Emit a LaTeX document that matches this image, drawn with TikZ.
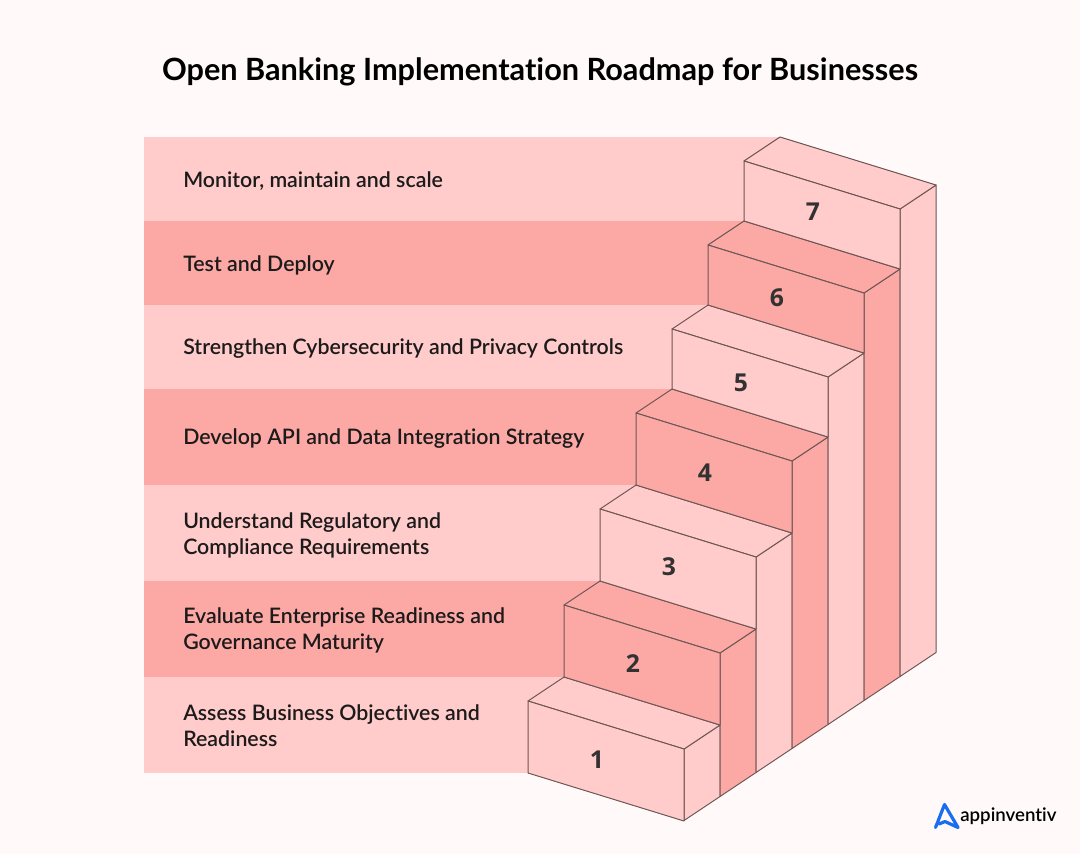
\documentclass[tikz,border=0pt]{standalone}
\usepackage{fontspec}
\setmainfont{Lato}[UprightFont=* Semibold,BoldFont=* Bold,RawFeature={-liga}]
\newfontfamily\numfont{Open Sans}
\definecolor{bgc}{HTML}{FFFAF9}
\definecolor{lite}{HTML}{FFCCCB}
\definecolor{deep}{HTML}{FCA9A6}
\definecolor{edge}{HTML}{6E5654}
\definecolor{ink}{HTML}{1C1A1A}
\definecolor{logoblue}{HTML}{1A6DF0}
\tikzset{
  x=0.75pt,y=-0.75pt,
  faceline/.style={draw=edge,line width=0.75pt,line join=round},
  bandlabel/.style={anchor=west,align=left,inner sep=0pt,text=ink,font=\fontsize{16}{19.5}\selectfont},
  stepnum/.style={inner sep=0pt,text=ink!90,font=\numfont\bfseries\fontsize{18.5}{20}\selectfont},
}
\begin{document}
\begin{tikzpicture}
\fill[bgc] (0,0) rectangle (1080,854);
\useasboundingbox (0,0) rectangle (1080,854);
\node[anchor=center,inner sep=0pt,text=black,font=\bfseries\fontsize{23}{27}\selectfont] (title) at (540,72) {Open Banking Implementation Roadmap for Businesses};
% bands
\fill[lite] (144,137) rectangle (780,221);
\fill[deep] (144,221) rectangle (744,305);
\fill[lite] (144,305) rectangle (708,389);
\fill[deep] (144,389) rectangle (672,485);
\fill[lite] (144,485) rectangle (636,581);
\fill[deep] (144,581) rectangle (600,677);
\fill[lite] (144,677) rectangle (564,773);
% steps: index / x / front top / front bottom / colour
\foreach \i/\x/\t/\b/\c in {1/528/701/773/lite,2/564/605/677/deep,3/600/509/581/lite,4/636/413/485/deep,5/672/329/389/lite,6/708/245/305/deep,7/744/161/221/lite}{
  \pgfmathsetmacro{\g}{820.5-24*(\i-1)}
  \pgfmathsetmacro{\gb}{\g-24}
  \path[fill=\c,faceline] (\x+156,\t+48) -- (\x+192,\t+24) -- (\x+192,\gb) -- (\x+156,\g) -- cycle;
  \path[fill=\c,faceline] (\x,\t) -- (\x+36,\t-24) -- (\x+192,\t+24) -- (\x+156,\t+48) -- cycle;
  \path[fill=\c,faceline] (\x,\t) -- (\x+156,\t+48) -- (\x+156,\b+48) -- (\x,\b) -- cycle;
}
\node[stepnum] (n1) at (597,760) {1};
\node[stepnum] (n2) at (633,664) {2};
\node[stepnum] (n3) at (669,567) {3};
\node[stepnum] (n4) at (705,473) {4};
\node[stepnum] (n5) at (741,383) {5};
\node[stepnum] (n6) at (777,298) {6};
\node[stepnum] (n7) at (813,212) {7};
\node[bandlabel] (l7) at (183,181) {Monitor, maintain and scale};
\node[bandlabel] (l6) at (183,265) {Test and Deploy};
\node[bandlabel] (l5) at (183,349) {Strengthen Cybersecurity and Privacy Controls};
\node[bandlabel] (l4) at (183,439) {Develop API and Data Integration Strategy};
\node[bandlabel] (l3) at (183,535) {Understand Regulatory and\\Compliance Requirements};
\node[bandlabel] (l2) at (183,630) {Evaluate Enterprise Readiness and\\Governance Maturity};
\node[bandlabel] (l1) at (183,726) {Assess Business Objectives and\\Readiness};
% logo
\draw[logoblue,line width=2.4pt,line join=round,line cap=round] (935.5,827.5) -- (944.5,804.5) -- (958,827.5) -- (945,821.5) -- (939,824);
\node[anchor=base west,inner sep=0pt,text=black,font=\fontsize{14}{18}\selectfont] (logo) at (960,821) {appinventiv};
\end{tikzpicture}
\end{document}
